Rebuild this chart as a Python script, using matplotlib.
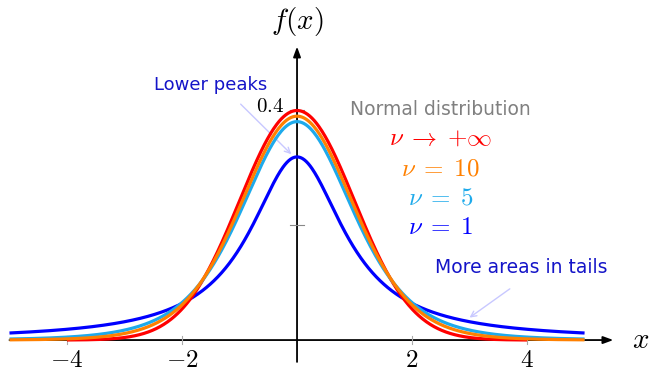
import math
import numpy as np
import matplotlib
matplotlib.use("Agg")
import matplotlib.pyplot as plt

plt.rcParams["mathtext.fontset"] = "cm"

# Degrees of freedom for the Student t curves (None = normal limit)
dof = [1, 5, 10, None]
curve_colors = ["#0000ff", "#1eaaeb", "#ff8000", "#ff0000"]
x_ranges = {1: (-5, 5), 5: (-5, 5), 10: (-5, 5), None: (-4, 4)}
draw_order = [1, None, 5, 10]

x_ticks = [-4, -2, 2, 4]
x_tick_labels = ["$-4$", "$-2$", "$2$", "$4$"]
y_ticks = [0.2, 0.4]
y_tick_labels = ["", "$0.4$"]

legend_lines = ["$\\nu \\;\\rightarrow\\; {+}\\infty$", "$\\nu \\;=\\; 10$",
                "$\\nu \\;=\\; 5$", "$\\nu \\;=\\; 1$"]
legend_colors = ["#ff0000", "#ff8000", "#1eaaeb", "#0000ff"]


def t_pdf(x, nu):
    if nu is None:
        return np.exp(-x ** 2 / 2) / math.sqrt(2 * math.pi)
    c = math.gamma((nu + 1) / 2) / (math.sqrt(nu * math.pi) * math.gamma(nu / 2))
    return c * (1 + x ** 2 / nu) ** (-(nu + 1) / 2)


fig = plt.figure(figsize=(6.53, 3.74), dpi=100)
ax = fig.add_axes([0, 0, 1, 1])
ax.set_xlim(-5.165, 6.19)
ax.set_ylim(-0.059, 0.591)
ax.axis("off")

# coordinate axes with arrow heads
ax.annotate("", xy=(5.5, 0), xytext=(-5.0, 0),
            arrowprops=dict(arrowstyle="-|>,head_width=0.22,head_length=0.6",
                            color="black", lw=1.3, shrinkA=0, shrinkB=0), zorder=1)
ax.annotate("", xy=(0, 0.51), xytext=(0, -0.038),
            arrowprops=dict(arrowstyle="-|>,head_width=0.22,head_length=0.6",
                            color="black", lw=1.3, shrinkA=0, shrinkB=0), zorder=1)

# ticks
for xt, lab in zip(x_ticks, x_tick_labels):
    ax.plot([xt, xt], [-0.007, 0.007], color="#aaaaaa", lw=0.8, zorder=1)
    ax.text(xt, -0.034, lab, ha="center", va="center", fontsize=18)
for yt, lab in zip(y_ticks, y_tick_labels):
    ax.plot([-0.12, 0.12], [yt, yt], color="#888888", lw=0.8, zorder=1)
    if lab:
        ax.text(-0.22, yt + 0.006, lab, ha="right", va="center", fontsize=15)

ax.text(0.0, 0.553, "$f(x)$", ha="center", va="center", fontsize=21)
ax.text(5.97, 0.0, "$x$", ha="center", va="center", fontsize=21)

# density curves
color_map = dict(zip(dof, curve_colors))
for nu in draw_order:
    a, b = x_ranges[nu]
    xs = np.linspace(a, b, 600)
    ax.plot(xs, t_pdf(xs, nu), color=color_map[nu], lw=2.3,
            solid_capstyle="butt", zorder=3)

# legend text block
ax.text(2.5, 0.4, "Normal distribution", ha="center", va="center",
        fontsize=13.5, color="#808080")
legend_y = [0.351, 0.299, 0.248, 0.196]
for y, txt, col in zip(legend_y, legend_lines, legend_colors):
    ax.text(2.5, y, txt, ha="center", va="center", fontsize=18, color=col)

# annotations
ax.text(-1.5, 0.444, "Lower peaks", ha="center", va="center",
        fontsize=13, color="#1414c8")
ax.annotate("", xy=(-0.1, 0.323), xytext=(-0.98, 0.41),
            arrowprops=dict(arrowstyle="->", color="#c8c8ff", lw=1.0,
                            shrinkA=0, shrinkB=0), zorder=2)
ax.text(3.9, 0.126, "More areas in tails", ha="center", va="center",
        fontsize=13.5, color="#1414c8")
ax.annotate("", xy=(3.0, 0.039), xytext=(3.7, 0.089),
            arrowprops=dict(arrowstyle="->", color="#c8c8ff", lw=1.0,
                            shrinkA=0, shrinkB=0), zorder=2)

fig.savefig("out.png", dpi=100)
